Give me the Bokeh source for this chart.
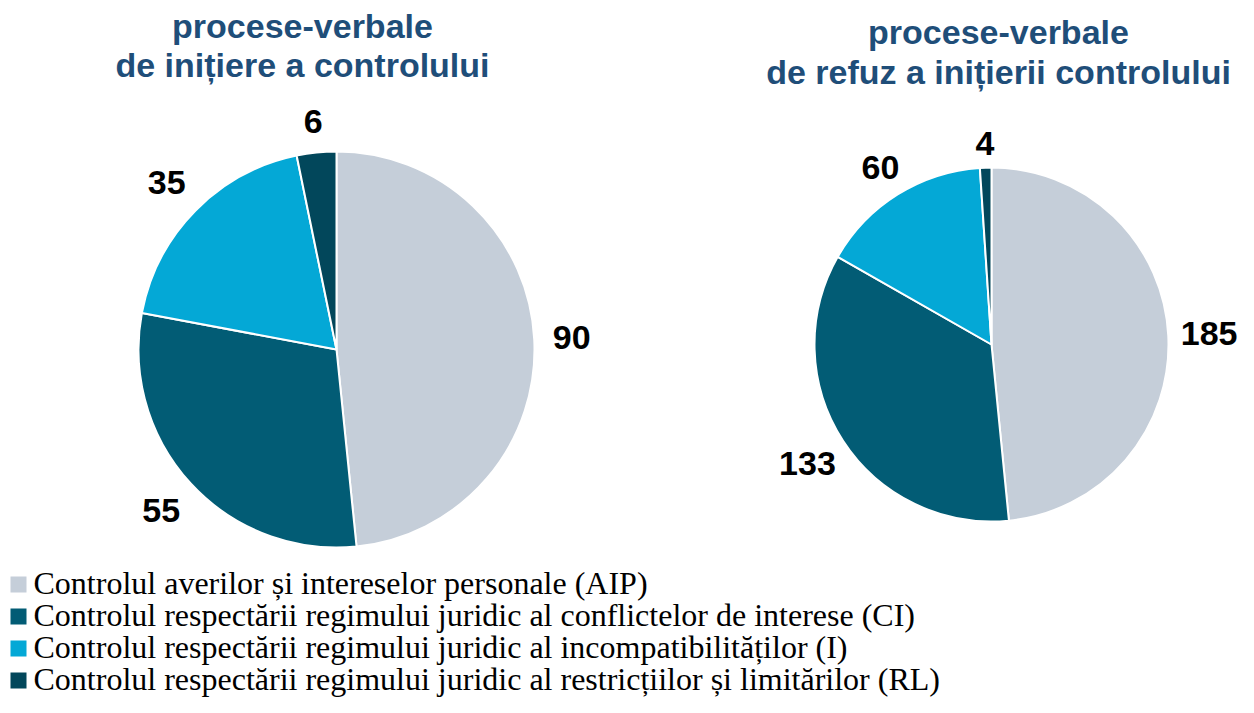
import numpy as np
from bokeh.plotting import figure
from bokeh.models import Range1d, ColumnDataSource
from bokeh.core.properties import value
from bokeh.embed import file_html
from bokeh.resources import INLINE

# ---- data ----
categories = [
    "Controlul averilor și intereselor personale (AIP)",
    "Controlul respectării regimului juridic al conflictelor de interese (CI)",
    "Controlul respectării regimului juridic al incompatibilităților (I)",
    "Controlul respectării regimului juridic al restricțiilor și limitărilor (RL)",
]
colors = ["#C5CED9", "#025C75", "#04A8D6", "#02475B"]
initiere_values = [90, 55, 35, 6]
refuz_values = [185, 133, 60, 4]
initiere_title = ["procese-verbale", "de inițiere a controlului"]
refuz_title = ["procese-verbale", "de refuz a inițierii controlului"]

W, H = 1238, 697


def Y(ref_y):
    return 713 - ref_y


p = figure(width=W, height=H, output_backend="svg", toolbar_location=None,
           x_range=Range1d(0, W), y_range=Range1d(713 - H, 713),
           min_border=0)
p.axis.visible = False
p.grid.visible = False
p.outline_line_color = None
p.background_fill_color = "white"
p.border_fill_color = "white"

TITLE_COLOR = "#1F4E79"
LABEL_FS = 34
TITLE_FS = 34
LEG_FS = 32
MID = 0.35  # baseline -> visual middle offset, in em

pies = [
    dict(values=initiere_values, cx=336, cy=349, r=198, pad=18, title=initiere_title,
         tx=302, tbase=[37, 76]),
    dict(values=refuz_values, cx=991, cy=344, r=177, pad=12, title=refuz_title,
         tx=998, tbase=[43, 83]),
]

for pie in pies:
    vals = np.array(pie["values"], dtype=float)
    frac = vals / vals.sum()
    cum = np.concatenate([[0], np.cumsum(frac)])
    start = np.pi / 2 - 2 * np.pi * cum[:-1]
    end = np.pi / 2 - 2 * np.pi * cum[1:]
    src = ColumnDataSource(dict(start=start, end=end, color=colors, cat=categories))
    p.wedge(x=pie["cx"], y=Y(pie["cy"]), radius=pie["r"], start_angle="start",
            end_angle="end", direction="clock", fill_color="color",
            line_color="white", line_width=2, source=src)

    mid = (start + end) / 2
    lx, ly, txt = [], [], []
    for m, v in zip(mid, pie["values"]):
        s = str(v)
        w = len(s) * 0.556 * LABEL_FS
        h = 0.716 * LABEL_FS
        c, sn = np.cos(m), np.sin(m)
        dist = pie["r"] + pie["pad"] + w / 2 * abs(c) + h / 2 * abs(sn)
        lx.append(pie["cx"] + dist * c)
        ly.append(Y(pie["cy"]) + dist * sn)
        txt.append(s)
    p.text(x=lx, y=ly, text=txt, text_font=value("Liberation Sans"),
           text_font_style="bold", text_font_size=f"{LABEL_FS}px",
           text_color="black", text_align="center", text_baseline="middle")

    p.text(x=[pie["tx"]] * 2, y=[Y(b - MID * TITLE_FS) for b in pie["tbase"]],
           text=pie["title"], text_font=value("Liberation Sans"),
           text_font_style="bold", text_font_size=f"{TITLE_FS}px",
           text_color=TITLE_COLOR, text_align="center", text_baseline="middle")

# ---- legend ----
leg_base = [594, 626, 658, 690]
p.scatter(x=[18] * 4, y=[Y(b - 10) for b in leg_base], marker="square", size=16,
          fill_color=colors, line_color=None)
p.text(x=[33] * 4, y=[Y(b - MID * LEG_FS) for b in leg_base], text=categories,
       text_font=value("Liberation Serif"), text_font_size=f"{LEG_FS}px",
       text_color="black", text_align="left", text_baseline="middle")

open("out.html", "w").write(file_html(p, INLINE))
